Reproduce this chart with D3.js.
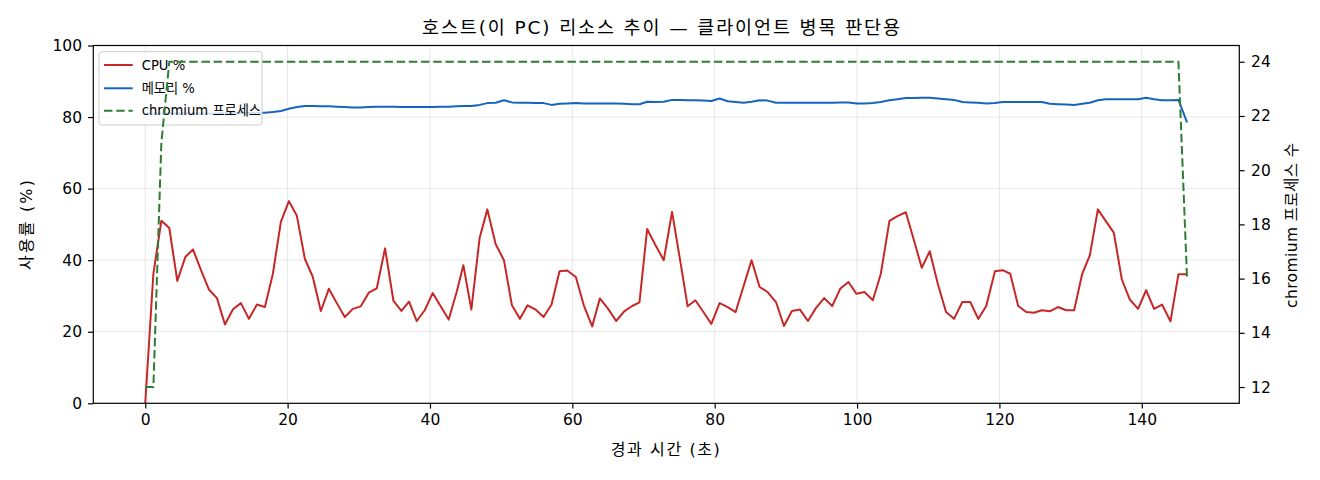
<!DOCTYPE html>
<html><head><meta charset="utf-8">
<script src="https://cdn.jsdelivr.net/npm/d3@7"></script>
<style>
body{margin:0;background:#fff}
svg{display:block}
text{font-family:"DejaVu Sans","Noto Sans CJK KR",sans-serif;fill:#000}
</style>
</head><body>
<svg id="c" width="1320" height="480"></svg>
<script>
const times=[0.00,1.14,2.26,3.38,4.50,5.63,6.71,7.83,8.95,10.07,11.20,12.32,13.44,14.56,15.69,16.81,17.93,19.05,20.18,21.30,22.42,23.54,24.67,25.79,26.91,28.03,29.16,30.28,31.40,32.52,33.69,34.87,35.99,37.06,38.14,39.26,40.38,41.50,42.63,43.75,44.69,45.81,46.98,48.06,49.22,50.39,51.51,52.63,53.71,54.83,55.96,57.08,58.20,59.28,60.49,61.61,62.79,63.86,65.03,66.16,67.28,68.40,69.43,70.51,71.63,72.84,74.01,75.14,76.20,77.28,78.41,79.53,80.69,81.82,82.94,84.06,85.18,86.31,87.43,88.61,89.73,90.85,91.97,93.10,94.22,95.38,96.51,97.63,98.79,99.92,101.04,102.22,103.34,104.55,105.67,106.85,107.97,109.09,110.21,111.34,112.50,113.62,114.79,115.90,117.03,118.15,119.37,120.45,121.52,122.64,123.77,124.85,125.97,127.09,128.21,129.38,130.50,131.63,132.71,133.83,134.95,136.07,137.20,138.32,139.48,140.61,141.73,142.85,144.03,145.15,146.36];
const cpu=[0,36.2,51.0,49.0,34.2,40.9,43.0,37.2,31.8,29.4,22.0,26.3,28.0,23.6,27.6,26.9,36.2,50.7,56.5,52.4,40.4,35.3,25.8,32.0,28.0,24.1,26.4,27.1,30.9,32.1,43.3,28.6,25.8,28.4,23.0,26.0,30.8,27.1,23.4,31.1,38.6,26.2,46.3,54.2,44.5,40.0,27.4,23.6,27.4,26.2,24.1,27.6,36.9,37.1,35.3,27.4,21.5,29.3,26.4,23.0,25.7,27.2,28.2,48.7,44.4,40.0,53.5,40.0,27.1,28.8,25.5,22.2,28.0,26.9,25.5,32.8,40.0,32.5,31.1,28.3,21.6,25.8,26.2,23.0,26.6,29.4,27.2,32.0,33.9,30.6,31.1,28.8,36.2,51.0,52.3,53.4,45.7,37.9,42.5,33.4,25.5,23.6,28.3,28.3,23.6,27.2,36.9,37.2,36.2,27.2,25.5,25.3,26.0,25.7,26.9,26.0,26.0,36.2,41.4,54.2,50.9,47.7,34.6,29.0,26.4,31.6,26.4,27.6,22.9,36.1,36.1];
const mem=[81.0,81.0,81.0,81.0,81.0,81.0,81.0,81.0,81.0,81.0,81.1,81.1,81.1,81.1,81.2,81.2,81.4,81.7,82.3,82.8,83.1,83.1,83.0,83.0,82.9,82.8,82.7,82.7,82.8,82.9,82.9,82.9,82.8,82.8,82.8,82.8,82.8,82.9,82.9,83.0,83.1,83.1,83.4,83.9,84.0,84.7,84.1,84.0,84.0,83.9,83.9,83.4,83.7,83.8,83.9,83.8,83.8,83.8,83.8,83.8,83.7,83.6,83.6,84.3,84.2,84.3,84.8,84.8,84.7,84.7,84.6,84.5,85.2,84.4,84.2,84.0,84.3,84.7,84.6,84.0,84.0,84.0,84.0,84.0,84.0,84.0,84.0,84.1,84.1,83.8,83.8,83.9,84.2,84.7,85.0,85.3,85.3,85.4,85.4,85.2,85.0,84.8,84.2,84.1,84.0,83.8,83.9,84.2,84.2,84.2,84.2,84.2,84.2,83.7,83.6,83.5,83.4,83.7,84.0,84.7,85.0,85.0,85.0,85.0,85.0,85.4,85.0,84.7,84.7,84.8,78.5];
const procs=[12,12,21,24,24,24,24,24,24,24,24,24,24,24,24,24,24,24,24,24,24,24,24,24,24,24,24,24,24,24,24,24,24,24,24,24,24,24,24,24,24,24,24,24,24,24,24,24,24,24,24,24,24,24,24,24,24,24,24,24,24,24,24,24,24,24,24,24,24,24,24,24,24,24,24,24,24,24,24,24,24,24,24,24,24,24,24,24,24,24,24,24,24,24,24,24,24,24,24,24,24,24,24,24,24,24,24,24,24,24,24,24,24,24,24,24,24,24,24,24,24,24,24,24,24,24,24,24,24,24,16];
const xTicks=[0,20,40,60,80,100,120,140];
const yTicks=[0,20,40,60,80,100];
const y2Ticks=[12,14,16,18,20,22,24];
const seriesNames=["CPU %","메모리 %","chromium 프로세스"];
const seriesColors=["#c62828","#1565c0","#2e7d32"];
const titleText="호스트(이 PC) 리소스 추이 — 클라이언트 병목 판단용";
const xLabel="경과 시간 (초)";
const yLabel="사용률 (%)";
const y2Label="chromium 프로세스 수";

const W=1320,H=480;
const L=93.3,R=1239.3,T=45.5,B=403.3;
const svg=d3.select("#c");
const n=Math.min(times.length,cpu.length,mem.length,procs.length);
const rows=d3.range(n).map(i=>({t:times[i],cpu:cpu[i],mem:mem[i],p:procs[i]}));

const x=d3.scaleLinear().domain([-7.3,153.7]).range([L,R]);
const y=d3.scaleLinear().domain([0,100]).range([B,T]);
const y2=d3.scaleLinear().domain([11.4,24.6]).range([B,T]);

// grid
const g=svg.append("g");
g.selectAll(".gx").data(xTicks).join("line")
  .attr("x1",d=>x(d)).attr("x2",d=>x(d)).attr("y1",T).attr("y2",B)
  .attr("stroke","#b0b0b0").attr("stroke-opacity",0.3).attr("stroke-width",1);
g.selectAll(".gy").data(yTicks.filter(d=>d>0&&d<100)).join("line")
  .attr("y1",d=>y(d)).attr("y2",d=>y(d)).attr("x1",L).attr("x2",R)
  .attr("stroke","#b0b0b0").attr("stroke-opacity",0.3).attr("stroke-width",1);

const lineCpu=d3.line().x(d=>x(d.t)).y(d=>y(d.cpu));
const lineMem=d3.line().x(d=>x(d.t)).y(d=>y(d.mem));
const lineP=d3.line().x(d=>x(d.t)).y(d=>y2(d.p));

svg.append("path").datum(rows).attr("d",lineCpu).attr("fill","none")
  .attr("stroke",seriesColors[0]).attr("stroke-width",2).attr("stroke-linejoin","round");
svg.append("path").datum(rows).attr("d",lineMem).attr("fill","none")
  .attr("stroke",seriesColors[1]).attr("stroke-width",2).attr("stroke-linejoin","round");

// legend
const lg=svg.append("g");
lg.append("rect").attr("x",99).attr("y",51.7).attr("width",163).attr("height",73.3)
  .attr("rx",3).attr("fill","#fff").attr("fill-opacity",0.8).attr("stroke","#cccccc").attr("stroke-width",1);
const rowY=[65,88.3,110.7];
seriesNames.forEach((s,i)=>{
  lg.append("line").attr("x1",104).attr("x2",132.7).attr("y1",rowY[i]).attr("y2",rowY[i])
    .attr("stroke",seriesColors[i]).attr("stroke-width",2)
    .attr("stroke-dasharray",i===2?"8.5,3.7":null);
  lg.append("text").attr("x",141.7).attr("y",rowY[i]).attr("dy","0.35em")
    .attr("font-size",13.2).text(s);
});

svg.append("path").datum(rows).attr("d",lineP).attr("fill","none")
  .attr("stroke",seriesColors[2]).attr("stroke-width",2).attr("stroke-dasharray","8.5,3.7");

// frame
svg.append("rect").attr("x",L).attr("y",T).attr("width",R-L).attr("height",B-T)
  .attr("fill","none").attr("stroke","#000").attr("stroke-width",1.2);

// axes
function styleAxis(sel){
  sel.select(".domain").remove();
  sel.selectAll(".tick line").attr("stroke","#000").attr("stroke-width",1.2);
  sel.selectAll(".tick text").attr("font-size",15.5).attr("fill","#000")
    .attr("font-family",'"DejaVu Sans","Noto Sans CJK KR",sans-serif');
}
svg.append("g").attr("transform",`translate(0,${B})`)
  .call(d3.axisBottom(x).tickValues(xTicks).tickSize(5.3).tickPadding(5.5).tickFormat(d3.format("d")))
  .call(styleAxis);
svg.append("g").attr("transform",`translate(${L},0)`)
  .call(d3.axisLeft(y).tickValues(yTicks).tickSize(5.3).tickPadding(6).tickFormat(d3.format("d")))
  .call(styleAxis);
svg.append("g").attr("transform",`translate(${R},0)`)
  .call(d3.axisRight(y2).tickValues(y2Ticks).tickSize(5.3).tickPadding(6.5).tickFormat(d3.format("d")))
  .call(styleAxis);

// labels
svg.append("text").attr("x",661).attr("y",34).attr("text-anchor","middle")
  .attr("font-size",18.5).attr("textLength",478).attr("lengthAdjust","spacing").text(titleText);
svg.append("text").attr("x",665.3).attr("y",455).attr("text-anchor","middle")
  .attr("font-size",16).attr("textLength",109).attr("lengthAdjust","spacing").text(xLabel);
svg.append("text").attr("transform",`translate(32,225) rotate(-90)`).attr("text-anchor","middle")
  .attr("font-size",16).attr("textLength",90).attr("lengthAdjust","spacing").text(yLabel);
svg.append("text").attr("transform",`translate(1297,225.5) rotate(-90)`).attr("text-anchor","middle")
  .attr("font-size",15.5).attr("textLength",165).attr("lengthAdjust","spacing").text(y2Label);
</script>
</body></html>
